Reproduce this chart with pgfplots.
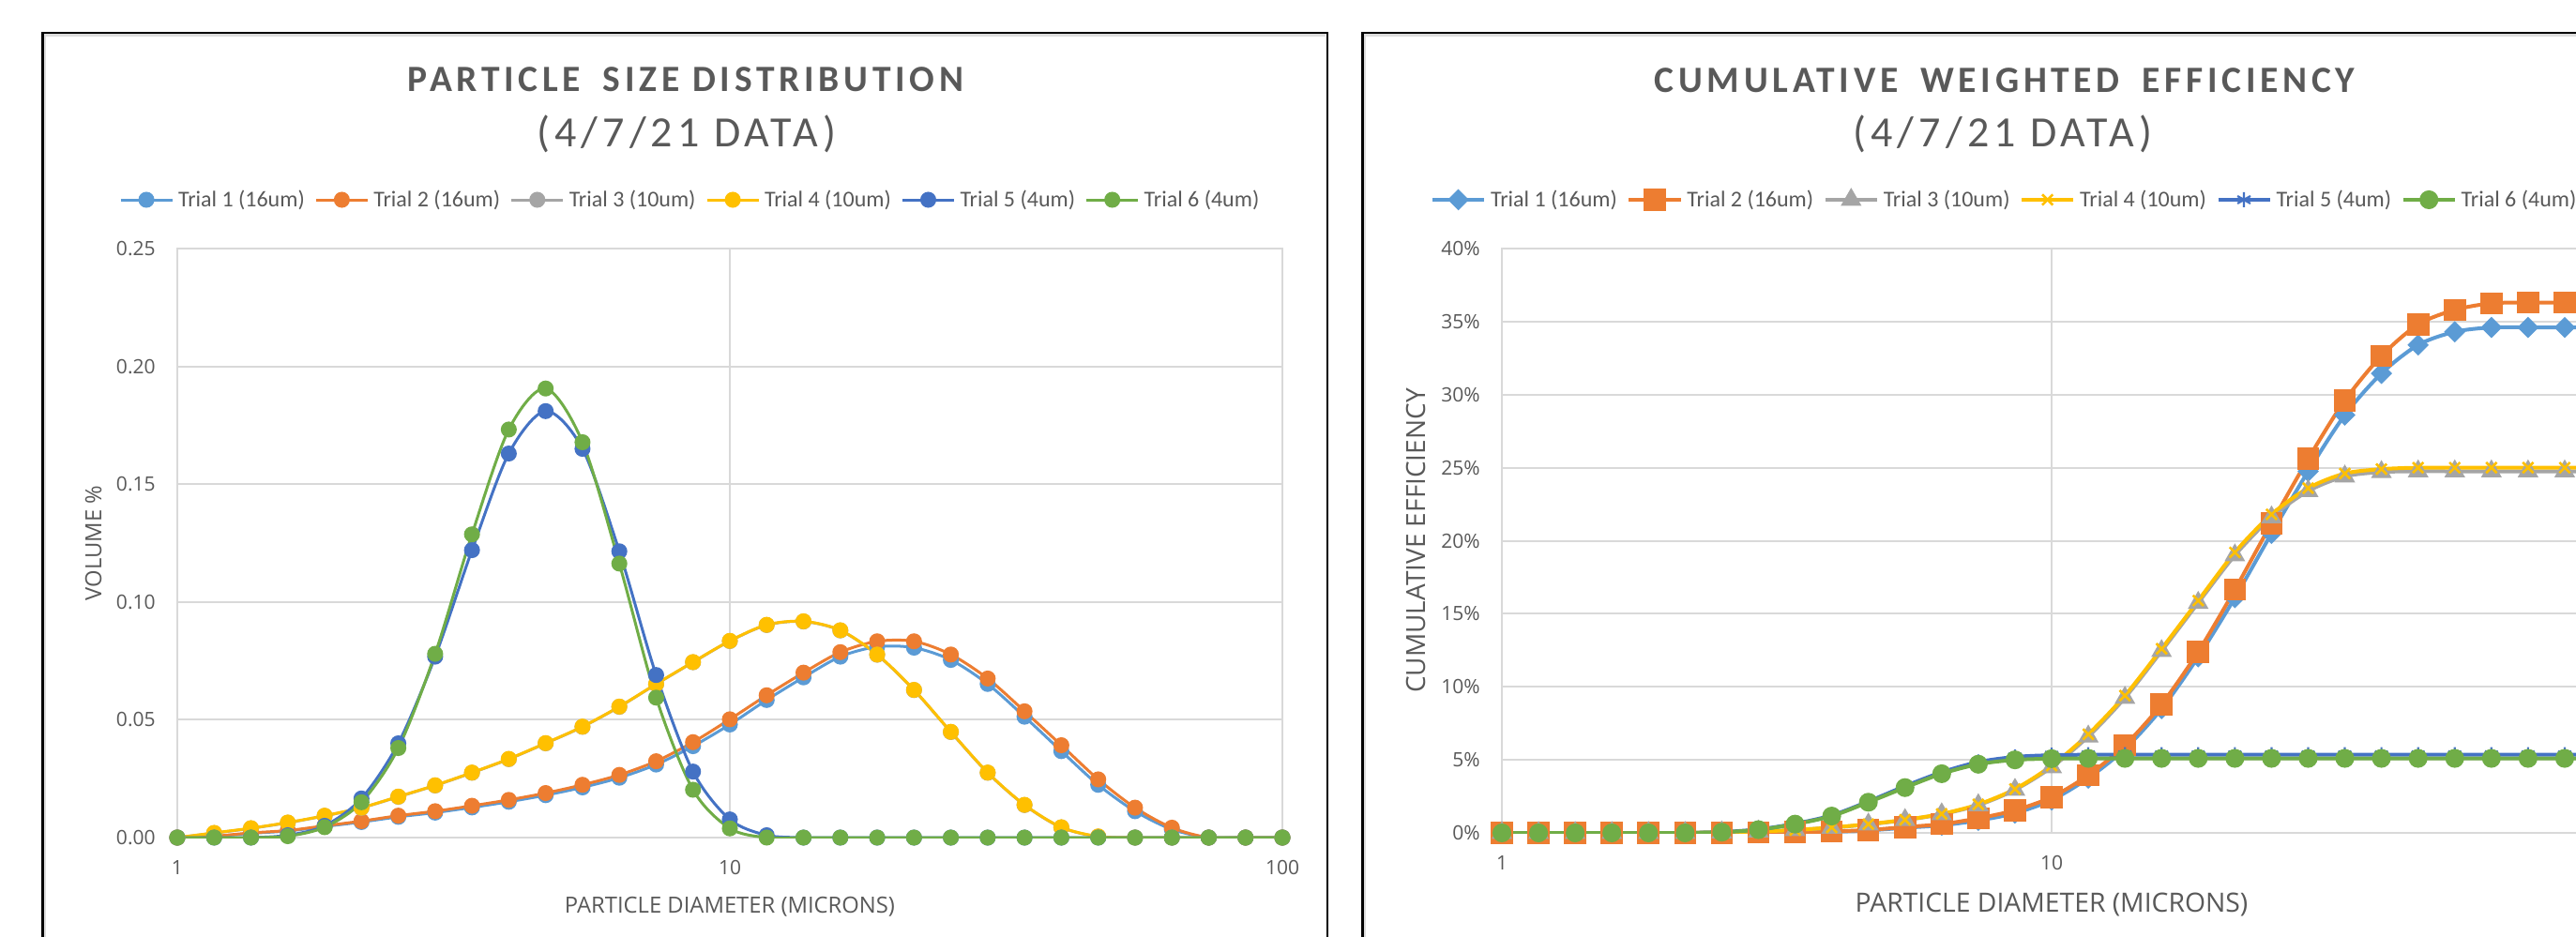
\documentclass[border=0pt]{standalone}
\usepackage{pgfplots}
\pgfplotsset{compat=1.18}
\usepackage{pgfplotstable}
\usepackage{fontspec}
\setmainfont{Carlito}
\newfontfamily\osans{Open Sans}
\newfontfamily\titlefont{Carlito}[LetterSpace=12]
\newfontfamily\subfont{Carlito}[LetterSpace=11]

\definecolor{c1}{HTML}{5B9BD5}
\definecolor{c2}{HTML}{ED7D31}
\definecolor{c3}{HTML}{A5A5A5}
\definecolor{c4}{HTML}{FFC000}
\definecolor{c5}{HTML}{4472C4}
\definecolor{c6}{HTML}{70AD47}
\definecolor{txt}{HTML}{595959}
\definecolor{gridc}{HTML}{D9D9D9}
\definecolor{frameshadow}{HTML}{DDDDDD}

% volume fraction per size bin (15 bins per decade)
\pgfplotstableread{
x       t1     t2     t3     t4     t5     t6
1       0      0      0      0      0      0
1.1659  0.0005 0.0006 0.0019 0.0020 0      0
1.3594  0.0018 0.0020 0.0039 0.0040 0      0
1.5849  0.0028 0.0030 0.0063 0.0064 0.0010 0.0006
1.8478  0.0047 0.0050 0.0092 0.0093 0.0050 0.0044
2.1544  0.0066 0.0070 0.0126 0.0127 0.0166 0.0150
2.5119  0.0088 0.0093 0.0173 0.0174 0.0400 0.0380
2.9286  0.0106 0.0112 0.0221 0.0222 0.0768 0.0780
3.4145  0.0128 0.0135 0.0275 0.0276 0.1220 0.1287
3.9811  0.0152 0.0160 0.0333 0.0334 0.1630 0.1732
4.6416  0.0180 0.0189 0.0400 0.0401 0.1810 0.1906
5.4117  0.0213 0.0224 0.0470 0.0471 0.1650 0.1678
6.3096  0.0254 0.0266 0.0555 0.0556 0.1215 0.1163
7.3564  0.0310 0.0324 0.0651 0.0652 0.0690 0.0594
8.5770  0.0388 0.0405 0.0744 0.0745 0.0280 0.0203
10      0.0480 0.0502 0.0834 0.0835 0.0077 0.0039
11.659  0.0584 0.0604 0.0902 0.0903 0.0010 0
13.594  0.0680 0.0700 0.0917 0.0918 0      0
15.849  0.0768 0.0787 0.0879 0.0880 0      0
18.478  0.0810 0.0833 0.0776 0.0777 0      0
21.544  0.0806 0.0833 0.0626 0.0627 0      0
25.119  0.0754 0.0777 0.0448 0.0449 0      0
29.286  0.0652 0.0675 0.0275 0.0276 0      0
34.145  0.0513 0.0536 0.0138 0.0139 0      0
39.811  0.0367 0.0392 0.0043 0.0044 0      0
46.416  0.0224 0.0247 0.0004 0.0005 0      0
54.117  0.0112 0.0127 0      0      0      0
63.096  0.0035 0.0042 0      0      0      0
73.564  0      0      0      0      0      0
85.770  0      0      0      0      0      0
100     0      0      0      0      0      0
}\psd

% cumulative weighted efficiency, percent
\pgfplotstableread{
x       t1    t2    t3    t4    t5   t6
1       0     0     0     0     0    0
1.1659  0     0     0     0     0    0
1.3594  0     0     0     0     0    0
1.5849  0     0     0     0     0    0
1.8478  0     0     0     0     0    0
2.1544  0     0     0     0     0    0
2.5119  0     0     0.04  0.05  0.06 0.05
2.9286  0.02  0.02  0.10  0.10  0.24 0.22
3.4145  0.04  0.05  0.20  0.20  0.63 0.60
3.9811  0.08  0.10  0.36  0.37  1.20 1.15
4.6416  0.17  0.20  0.58  0.60  2.15 2.10
5.4117  0.35  0.40  0.88  0.90  3.20 3.10
6.3096  0.52  0.60  1.28  1.30  4.15 4.05
7.3564  0.85  1.00  1.90  1.95  4.85 4.70
8.5770  1.35  1.55  2.95  3.00  5.20 5.00
10      2.25  2.45  4.50  4.60  5.32 5.08
11.659  3.75  3.95  6.60  6.75  5.35 5.10
13.594  5.75  6.00  9.25  9.40  5.35 5.10
15.849  8.50  8.80  12.45 12.60 5.35 5.10
18.478  12.05 12.40 15.75 15.90 5.35 5.10
21.544  16.10 16.65 19.00 19.20 5.35 5.10
25.119  20.50 21.20 21.60 21.80 5.35 5.10
29.286  24.75 25.60 23.40 23.60 5.35 5.10
34.145  28.60 29.60 24.40 24.60 5.35 5.10
39.811  31.45 32.65 24.70 24.90 5.35 5.10
46.416  33.40 34.80 24.75 25.00 5.35 5.10
54.117  34.30 35.80 24.75 25.00 5.35 5.10
63.096  34.60 36.25 24.75 25.00 5.35 5.10
73.564  34.60 36.30 24.75 25.00 5.35 5.10
85.770  34.60 36.30 24.75 25.00 5.35 5.10
100     34.60 36.30 24.75 25.00 5.35 5.10
}\cwe

\pgfplotsset{
  panel/.style={
    scale only axis,
    xmin=1, xmax=100,
    xtick={1,10,100}, xticklabels={1,10,100},
    minor xtick={},
    scaled y ticks=false,
    grid=major,
    major grid style={draw=gridc, line width=1pt},
    axis line style={draw=gridc, line width=1pt},
    major tick length=0pt,
    tick style={draw=none},
    /pgf/number format/assume math mode=true,
    ticklabel style={font=\osans\fontsize{10.5pt}{12pt}\selectfont, text=txt, inner sep=0pt},
    xticklabel style={anchor=center, yshift=-16pt},
    yticklabel style={anchor=east, xshift=-11.5pt},
    legend columns=6,
    legend cell align=left,
    legend style={draw=none, fill=none, inner sep=0pt, outer sep=0pt,
      anchor=west, text=txt,
      font=\fontsize{12pt}{14pt}\selectfont,
      column sep=2.5pt,
      /tikz/every even column/.append style={column sep=5.3pt},
      nodes={inner sep=0pt}},
    legend image code/.code={%
      \draw[mark repeat=2, mark phase=2, #1]
        plot coordinates {(0pt,0pt) (13.75pt,0pt) (27.5pt,0pt)};},
  },
  curve/.style={color=#1, smooth, tension=0.5, mark options={solid, fill=#1, draw=#1}},
}

\begin{document}
\begin{tikzpicture}
\useasboundingbox (0pt,0pt) rectangle (1373pt,-499.5pt);
\fill[white] (0pt,0pt) rectangle (1373pt,-499.5pt);

% chart frames and titles, positioned in pixel units
\begin{scope}[x=0.5pt, y=-0.5pt]
  \draw[frameshadow, line width=1.25pt] (47.75,1000) -- (47.75,37.75) -- (1412.5,37.75);
  \draw[black, line width=1.25pt] (45.25,1000) -- (45.25,35.25) -- (1415,35.25) -- (1415,1000);
  \draw[frameshadow, line width=1.25pt] (1455,1000) -- (1455,37.75) -- (2746,37.75);
  \draw[black, line width=1.25pt] (1452.5,1000) -- (1452.5,35.25) -- (2746,35.25);

  \node[anchor=base, text=txt, font=\titlefont\bfseries\fontsize{19.75pt}{22pt}\selectfont]
    at (731,98) {PARTICLE\hspace{5pt} SIZE DISTRIBUTION};
  \node[anchor=base, text=txt, font=\subfont\fontsize{23pt}{26pt}\selectfont]
    at (732,157) {(4/7/21 DATA)};

  \node[anchor=base, text=txt, font=\titlefont\bfseries\fontsize{19.75pt}{22pt}\selectfont]
    at (2137,99) {CUMULATIVE\hspace{5pt} WEIGHTED\hspace{5pt} EFFICIENCY};
  \node[anchor=base, text=txt, font=\subfont\fontsize{23pt}{26pt}\selectfont]
    at (2135,157) {(4/7/21 DATA)};
\end{scope}

% particle size distribution
\begin{semilogxaxis}[panel,
  at={(94.5pt,-446.5pt)}, anchor=south west,
  width=589pt, height=314pt,
  ymin=0, ymax=0.25,
  ytick={0,0.05,0.1,0.15,0.2,0.25},
  /pgf/number format/fixed, /pgf/number format/fixed zerofill,
  /pgf/number format/precision=2,
  xlabel={PARTICLE DIAMETER (MICRONS)},
  ylabel={VOLUME \%},
  xlabel style={at={(axis description cs:0.5,-0.1282)}, anchor=base,
    font=\osans\fontsize{11.9pt}{13pt}\selectfont, text=txt},
  ylabel style={at={(axis description cs:-0.06876,0.5)}, anchor=base,
    font=\osans\fontsize{11.9pt}{13pt}\selectfont, text=txt},
  legend style={at={(axis description cs:-0.0526,1.0828)}},
  every axis plot/.append style={line width=1.5pt, mark=*, mark size=3.5pt},
]
\addplot[curve=c1] table[x=x, y=t1] {\psd};
\addlegendentry{Trial 1 (16um)}
\addplot[curve=c2] table[x=x, y=t2] {\psd};
\addlegendentry{Trial 2 (16um)}
\addplot[curve=c3] table[x=x, y=t3] {\psd};
\addlegendentry{Trial 3 (10um)}
\addplot[curve=c4] table[x=x, y=t4] {\psd};
\addlegendentry{Trial 4 (10um)}
\addplot[curve=c5] table[x=x, y=t5] {\psd};
\addlegendentry{Trial 5 (4um)}
\addplot[curve=c6] table[x=x, y=t6] {\psd};
\addlegendentry{Trial 6 (4um)}
\end{semilogxaxis}

% cumulative weighted efficiency
\begin{semilogxaxis}[panel,
  at={(800.5pt,-444pt)}, anchor=south west,
  width=586pt, height=311.5pt,
  ymin=0, ymax=40,
  ytick={0,5,...,40},
  yticklabel={\pgfmathprintnumber{\tick}\%},
  xlabel={PARTICLE DIAMETER (MICRONS)},
  ylabel={CUMULATIVE EFFICIENCY},
  xlabel style={at={(axis description cs:0.5,-0.1364)}, anchor=base,
    font=\osans\fontsize{14.15pt}{16pt}\selectfont, text=txt},
  ylabel style={at={(axis description cs:-0.06997,0.5)}, anchor=base,
    font=\osans\fontsize{14pt}{16pt}\selectfont, text=txt},
  legend style={at={(axis description cs:-0.0648,1.0835)}},
  every axis plot/.append style={line width=2pt},
]
\addplot[curve=c1, mark=square*, mark size=3pt, mark options={rotate=45}] table[x=x, y=t1] {\cwe};
\addlegendentry{Trial 1 (16um)}
\addplot[curve=c2, mark=square*, mark size=4.9pt] table[x=x, y=t2] {\cwe};
\addlegendentry{Trial 2 (16um)}
\addplot[curve=c3, mark=triangle*, mark size=4.4pt] table[x=x, y=t3] {\cwe};
\addlegendentry{Trial 3 (10um)}
\addplot[curve=c4, mark=x, mark size=4pt, mark options={line width=1.3pt}] table[x=x, y=t4] {\cwe};
\addlegendentry{Trial 4 (10um)}
\addplot[curve=c5, mark=asterisk, mark size=4pt, mark options={line width=1.1pt}] table[x=x, y=t5] {\cwe};
\addlegendentry{Trial 5 (4um)}
\addplot[curve=c6, mark=*, mark size=4pt] table[x=x, y=t6] {\cwe};
\addlegendentry{Trial 6 (4um)}
\end{semilogxaxis}
\end{tikzpicture}
\end{document}
